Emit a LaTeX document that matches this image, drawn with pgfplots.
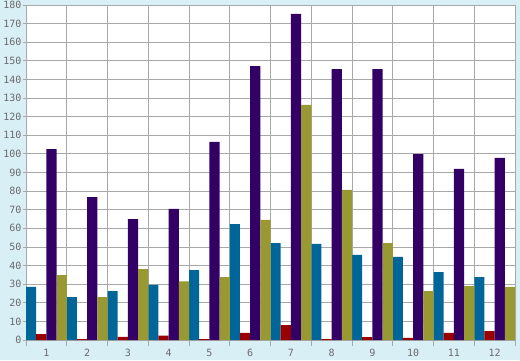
\documentclass[border=0pt]{standalone}
\usepackage{pgfplots}
\pgfplotsset{compat=1.18}
\usepackage{fontspec}
\setmonofont{DejaVu Sans Mono}
\definecolor{bgblue}{HTML}{D9EFF6}
\definecolor{gridgray}{HTML}{A8A8A8}
\definecolor{txtgray}{HTML}{6A6A6A}
\definecolor{cteal}{HTML}{006699}
\definecolor{cred}{HTML}{990000}
\definecolor{cpurple}{HTML}{330066}
\definecolor{colive}{HTML}{999933}
\begin{document}
\begin{tikzpicture}[x=1bp,y=1bp]
\fill[bgblue] (0,0) rectangle (520,360);
\useasboundingbox (0,0) rectangle (520,360);
\begin{axis}[
  at={(26bp,20bp)}, anchor=south west,
  scale only axis, width=489bp, height=335bp,
  xmin=0, xmax=12, ymin=0, ymax=180,
  axis background/.style={fill=white},
  axis line style={gridgray, line width=0.8bp},
  ybar=0pt, bar width=0.25,
  xtick={0.5,1.5,...,11.5},
  xticklabels={1,2,3,4,5,6,7,8,9,10,11,12},
  major x tick style={draw=none},
  minor xtick={0,1,...,12},
  minor x tick style={gridgray, line width=0.8bp},
  xminorgrids=true,
  ytick={0,10,...,180},
  ymajorgrids=true,
  major y tick style={gridgray, line width=0.8bp},
  grid style={gridgray, line width=0.8bp},
  minor grid style={gridgray, line width=0.8bp},
  tick align=outside,
  major tick length=3bp, minor tick length=6bp,
  xtick pos=bottom, ytick pos=left,
  /pgf/number format/assume math mode=true,
  tick label style={font=\ttfamily\fontsize{10bp}{12bp}\selectfont, text=txtgray},
  xticklabel style={yshift=-3bp},
  yticklabel style={xshift=2bp},
  every axis plot/.append style={draw=none},
]
\addplot[fill=cteal] coordinates {(0.5,28.5) (1.5,23.1) (2.5,26.3) (3.5,29.6) (4.5,37.6) (5.5,62.3) (6.5,52.1) (7.5,51.6) (8.5,45.7) (9.5,44.6) (10.5,36.5) (11.5,33.8)};
\addplot[fill=cred] coordinates {(0.5,3.2) (1.5,0.5) (2.5,1.7) (3.5,2.3) (4.5,0.5) (5.5,3.8) (6.5,8.0) (7.5,0.5) (8.5,1.6) (9.5,1.1) (10.5,3.8) (11.5,4.8)};
\addplot[fill=cpurple] coordinates {(0.5,102.6) (1.5,76.8) (2.5,65.0) (3.5,70.4) (4.5,106.4) (5.5,147.2) (6.5,175.2) (7.5,145.6) (8.5,145.6) (9.5,99.9) (10.5,91.9) (11.5,97.8)};
\addplot[fill=colive] coordinates {(0.5,34.9) (1.5,23.1) (2.5,38.1) (3.5,31.5) (4.5,33.8) (5.5,64.5) (6.5,126.3) (7.5,80.6) (8.5,52.1) (9.5,26.3) (10.5,29.0) (11.5,28.5)};
\end{axis}
\end{tikzpicture}
\end{document}
